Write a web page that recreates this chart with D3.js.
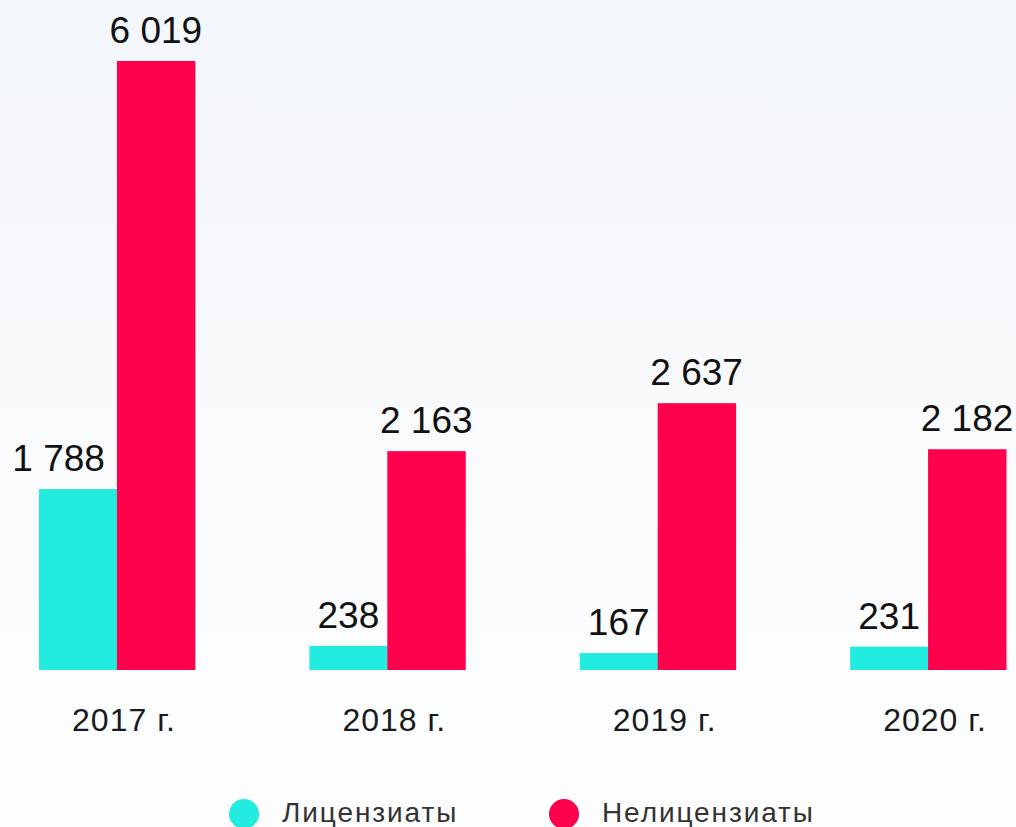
<!DOCTYPE html>
<html>
<head>
<meta charset="utf-8">
<script src="https://cdn.jsdelivr.net/npm/d3@7"></script>
<style>
	body { margin: 0; background: #fcfdfe; }
	svg { display: block; font-family: "Liberation Sans", Arial, sans-serif; }
</style>
</head>
<body>
<div id="chart"></div>
<script>
var years = ["2017 г.", "2018 г.", "2019 г.", "2020 г."];
var seriesNames = ["Лицензиаты", "Нелицензиаты"];
var licensed = [1788, 238, 167, 231];
var unlicensed = [6019, 2163, 2637, 2182];
var colors = ["#22ebdf", "#ff004c"];

var width = 1016, height = 827;
var baseY = 670, topY = 61;

var rows = years.map(function(y, i){ return { year: y, values: [licensed[i], unlicensed[i]] }; });

var svg = d3.select("#chart").append("svg").attr("width", width).attr("height", height);

var grad = svg.append("defs").append("linearGradient")
	.attr("id", "bg").attr("x1", 0).attr("y1", 0).attr("x2", 0).attr("y2", 1);
grad.append("stop").attr("offset", "0%").attr("stop-color", "#f3f6fa");
grad.append("stop").attr("offset", "85%").attr("stop-color", "#fcfdfe");
grad.append("stop").attr("offset", "100%").attr("stop-color", "#fdfdfe");
svg.append("rect").attr("width", width).attr("height", height).attr("fill", "url(#bg)");

var x0 = d3.scaleBand()
	.domain(years)
	.range([39, 1006])
	.paddingInner(0.4236)
	.paddingOuter(0);

var x1 = d3.scaleBand()
	.domain([0, 1])
	.range([0, x0.bandwidth()]);

var y = d3.scaleLinear()
	.domain([0, d3.max(unlicensed)])
	.range([baseY, topY]);

var groups = svg.selectAll(".group").data(rows).enter().append("g")
	.attr("class", "group")
	.attr("transform", function(d){ return "translate(" + x0(d.year) + ",0)"; });

groups.selectAll("rect").data(function(d){ return d.values; }).enter().append("rect")
	.attr("x", function(d, i){ return x1(i); })
	.attr("y", function(d){ return y(d); })
	.attr("width", x1.bandwidth() + 0.5)
	.attr("height", function(d){ return baseY - y(d); })
	.attr("fill", function(d, i){ return colors[i]; });

groups.selectAll(".val").data(function(d){ return d.values; }).enter().append("text")
	.attr("class", "val")
	.attr("y", function(d){ return y(d) - 18; })
	.attr("font-size", 37)
	.attr("fill", "#111")
	.attr("text-anchor", "middle")
	.text(function(d){ return d3.format(",")(d).replace(/,/g, " "); })
	.attr("x", function(d, i){
		var c = x1(i) + x1.bandwidth() / 2;
		var w = this.getComputedTextLength();
		var right = x1(i) + x1.bandwidth();
		if (i == 0 && c + w / 2 > right) return right - 12 - w / 2;
		return c;
	});

groups.append("text")
	.attr("x", x0.bandwidth() / 2 + 7)
	.attr("y", 731)
	.attr("font-size", 32)
	.attr("letter-spacing", 1)
	.attr("fill", "#1a1a1a")
	.attr("text-anchor", "middle")
	.text(function(d){ return d.year; });

var legend = svg.selectAll(".legend").data(seriesNames).enter().append("g")
	.attr("class", "legend")
	.attr("transform", function(d, i){ return "translate(" + (244 + i * 320) + ",814)"; });

legend.append("circle").attr("r", 15).attr("fill", function(d, i){ return colors[i]; });
legend.append("text")
	.attr("x", 38)
	.attr("y", 8)
	.attr("font-size", 28)
	.attr("letter-spacing", 1.9)
	.attr("fill", "#333")
	.text(function(d){ return d; });
</script>
</body>
</html>
